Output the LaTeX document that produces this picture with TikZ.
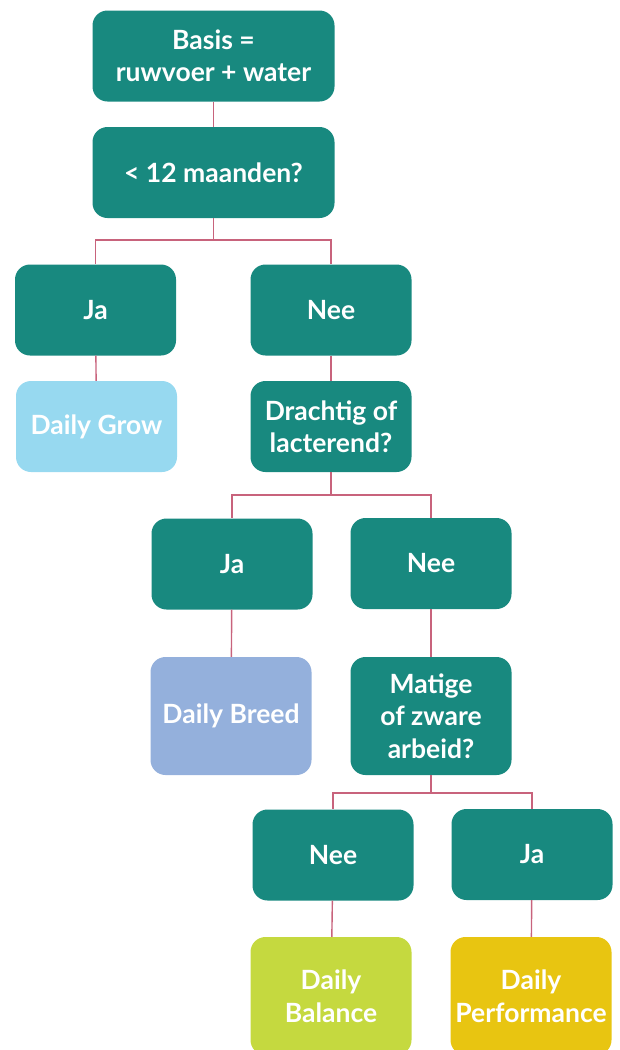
\documentclass[tikz,border=0pt]{standalone}
\usepackage{fontspec}
\setmainfont{Lato}
\usepackage{tikz}
\usetikzlibrary{calc}
\definecolor{boxteal}{HTML}{18897F}
\definecolor{growblue}{HTML}{97D9F0}
\definecolor{breedblue}{HTML}{94B0DC}
\definecolor{balancegreen}{HTML}{C5D93F}
\definecolor{perfyellow}{HTML}{E8C511}
\definecolor{linkred}{HTML}{C8637C}
\begin{document}
\begin{tikzpicture}[x=1pt,y=-1pt]
                \tikzstyle{every node}+=[inner sep=0pt]
                \tikzstyle{box}=[rounded corners=15pt, minimum width=161pt, minimum height=91pt, fill=boxteal, text=white, align=center, font=\bfseries\fontsize{26.5}{32.5}\selectfont]
                \tikzstyle{link}=[draw=linkred, line width=1.4pt]
                \useasboundingbox (0,0) rectangle (620,1050);
                \node [box, minimum width=242pt] (basis) at (213.5,56) {Basis =\\ruwvoer + water};
                \node [box, minimum width=242pt] (maanden) at (213.5,172.5) {< 12 maanden?};
                \node [box] (ja1) at (95.5,310) {Ja};
                \node [box] (nee1) at (331,310) {Nee};
                \node [box, fill=growblue] (grow) at (96.5,426.5) {Daily Grow};
                \node [box] (drachtig) at (331,426.5) {Drachtig of\\lacterend?};
                \node [box] (ja2) at (232,564) {Ja};
                \node [box] (nee2) at (431,563.5) {Nee};
                \node [box, fill=breedblue, minimum height=118pt] (breed) at (231,716) {Daily Breed};
                \node [box, minimum height=118pt] (matige) at (431,716) {Matige\\of zware\\arbeid?};
                \node [box] (nee3) at (333,855) {Nee};
                \node [box] (ja3) at (532,854.5) {Ja};
                \node [box, fill=balancegreen, minimum height=118pt] (balance) at (331,996) {Daily\\Balance};
                \node [box, fill=perfyellow, minimum height=118pt] (perf) at (531,996) {Daily\\Performance};
                \coordinate (split1) at (213.5,240);
                \coordinate (split2) at (331,495);
                \coordinate (split3) at (431,793);
                \draw [link] (basis) -- (maanden);
                \draw [link] (maanden) -- (split1) -| (ja1);
                \draw [link] (split1) -| (nee1);
                \draw [link] (ja1) -- (grow);
                \draw [link] (nee1) -- (drachtig);
                \draw [link] (drachtig) -- (split2) -| (ja2);
                \draw [link] (split2) -| (nee2);
                \draw [link] (ja2) -- (breed);
                \draw [link] (nee2) -- (matige);
                \draw [link] (matige) -- (split3) -| (nee3);
                \draw [link] (split3) -| (ja3);
                \draw [link] (nee3) -- (balance);
                \draw [link] (ja3) -- (perf);
\end{tikzpicture}
\end{document}
